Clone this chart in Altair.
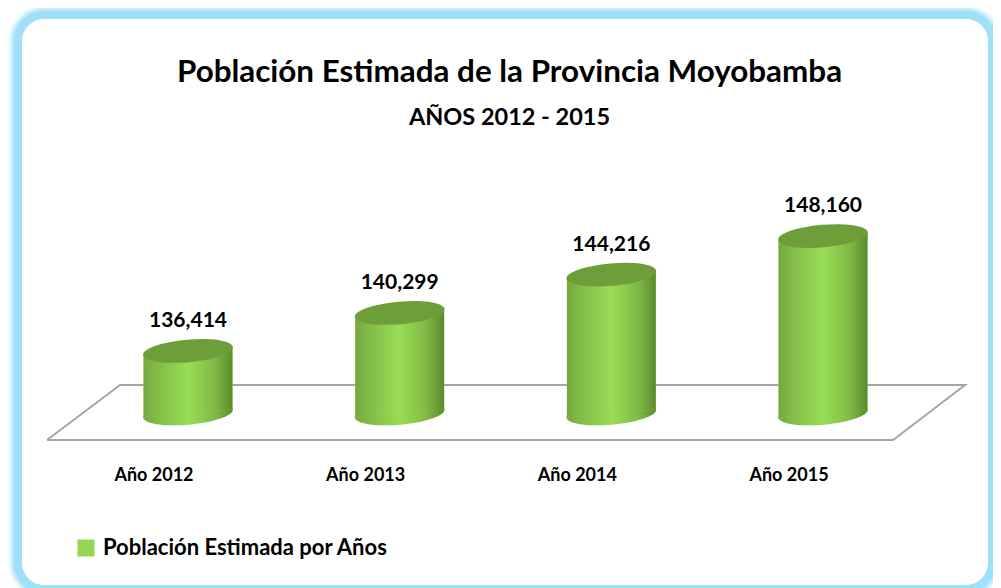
import json
import altair as alt
import pandas as pd

categories = ["Año 2012", "Año 2013", "Año 2014", "Año 2015"]
values = [136414, 140299, 144216, 148160]
positions = [0, 1, 2, 3]
series_name = "Población Estimada por Años"
title_text = "Población Estimada de la Provincia Moyobamba"
subtitle_text = "AÑOS 2012 - 2015"

# value at the foot of the cylinders, half width of a cylinder (category units), tilt (value units)
base_value = 130030
half_width = 0.21
tilt = 420
label_shift = 0.163

# the floor parallelogram, in scale units
floor_pos = [-0.666, -0.321, 3.671, 3.331, -0.666]
floor_val = [127323, 132941, 132941, 127323, 127323]

FONT = "Lato"
W, H = 985, 580
x_scale = alt.Scale(domain=[-0.8504, 3.803], nice=False, zero=False)
y_scale = alt.Scale(domain=[112205, 171450], nice=False, zero=False)

bars = pd.DataFrame({"cat": categories, "pos": positions, "value": values})
bars["base"] = base_value
bars["series"] = series_name

rows = []
for c, p, v in zip(categories, positions, values):
    for side in (-1, 1):
        rows.append({"cat": c, "px": p + side * half_width, "top": v + side * tilt,
                     "bot": base_value + side * tilt, "series": series_name})
body = pd.DataFrame(rows)
floor = pd.DataFrame({"px": floor_pos, "v": floor_val, "o": range(len(floor_pos))})

X = alt.X("px:Q", scale=x_scale, title=None)

# rounded frame with a soft glow
frame_rows = pd.DataFrame({"a": [0]})
frame_layers = []
for sw, op in [(28, 0.12), (25, 0.2), (22, 0.3), (19, 0.5), (16, 0.8), (14, 1.0)]:
    frame_layers.append(
        alt.Chart(frame_rows).mark_rect(cornerRadius=22, fill="#ffffff", stroke="#9de0f8",
                                        strokeWidth=sw, strokeOpacity=op, fillOpacity=0)
        .encode(x=alt.value(14), x2=alt.value(980), y=alt.value(11), y2=alt.value(577))
    )
frame_white = alt.Chart(frame_rows).mark_rect(cornerRadius=22, fill="#ffffff").encode(
    x=alt.value(14), x2=alt.value(980), y=alt.value(11), y2=alt.value(577))

floor_line = alt.Chart(floor).mark_line(color="#a6a6a6", strokeWidth=2).encode(
    x=alt.X("px:Q", scale=x_scale, title=None,
            axis=alt.Axis(values=[p - label_shift for p in positions], grid=False, domain=False, ticks=False,
                          labelExpr=f"{json.dumps(categories, ensure_ascii=False)}[round(datum.value + {label_shift})]",
                          labelFont=FONT, labelFontSize=18, labelFontWeight="bold",
                          labelColor="#000000", labelPadding=0, zindex=1,
                          labelBaseline="middle", offset=-113)),
    y=alt.Y("v:Q", scale=y_scale, axis=None),
    order="o:Q",
)

gradient = alt.Gradient(
    gradient="linear", x1=0, x2=1, y1=0, y2=0,
    stops=[alt.GradientStop(offset=0, color="#76a83e"),
           alt.GradientStop(offset=0.12, color="#7fb845"),
           alt.GradientStop(offset=0.5, color="#99dd55"),
           alt.GradientStop(offset=0.8, color="#80b945"),
           alt.GradientStop(offset=1, color="#5b8b2d")],
)
ellipse = "M-1,0 A1,0.25 0 1 1 1,0 A1,0.25 0 1 1 -1,0 Z"

foot = alt.Chart(bars).mark_point(shape=ellipse, size=8100, filled=True, opacity=1,
                                  fill=gradient, angle=355, strokeWidth=0).encode(
    x=alt.X("pos:Q", scale=x_scale, title=None),
    y=alt.Y("base:Q", scale=y_scale, axis=None),
)
body_base = alt.Chart(body).mark_area(opacity=1).encode(
    x=X, y=alt.Y("top:Q", scale=y_scale, axis=None), y2="bot:Q", detail="cat:N",
    color=alt.Color("series:N", scale=alt.Scale(domain=[series_name], range=["#92d654"]),
                    legend=alt.Legend(title=None, orient="none", legendX=67, legendY=529,
                                      symbolType="square", symbolSize=289, symbolOpacity=1,
                                      symbolStrokeWidth=0, labelFont=FONT, labelFontSize=22,
                                      labelFontWeight="bold", labelColor="#000000", labelLimit=400,
                                      labelOffset=6)),
)
body_shade = alt.Chart(body).mark_area(fill=gradient, opacity=1).encode(
    x=X, y=alt.Y("top:Q", scale=y_scale, axis=None), y2="bot:Q", detail="cat:N",
)
lid = alt.Chart(bars).mark_point(shape=ellipse, size=8100, filled=True, opacity=1,
                                 fill="#6e9e3a", angle=355, strokeWidth=0).encode(
    x=alt.X("pos:Q", scale=x_scale, title=None),
    y=alt.Y("value:Q", scale=y_scale, axis=None),
)
labels = alt.Chart(bars).mark_text(font=FONT, fontSize=21, fontWeight="bold", color="#000000",
                                   dy=-30).encode(
    x=alt.X("pos:Q", scale=x_scale, title=None),
    y=alt.Y("value:Q", scale=y_scale, axis=None),
    text=alt.Text("value:Q", format=",d"),
)

chart = alt.layer(
    *frame_layers, frame_white, floor_line, foot, body_base, body_shade, lid, labels
).properties(
    width=W, height=H,
    padding=0,
    autosize=alt.AutoSizeParams(type="none"),
    title=alt.TitleParams(text=title_text, subtitle=subtitle_text, anchor="middle", dx=9,
                          offset=-124, font=FONT, fontSize=31.4, fontWeight="bold", color="#000000",
                          subtitleFont=FONT, subtitleFontSize=23.5, subtitleFontWeight="bold",
                          subtitleColor="#000000", subtitlePadding=17),
).configure_view(stroke=None)

chart.save("out.html", embed_options={"renderer": "svg", "actions": False})
